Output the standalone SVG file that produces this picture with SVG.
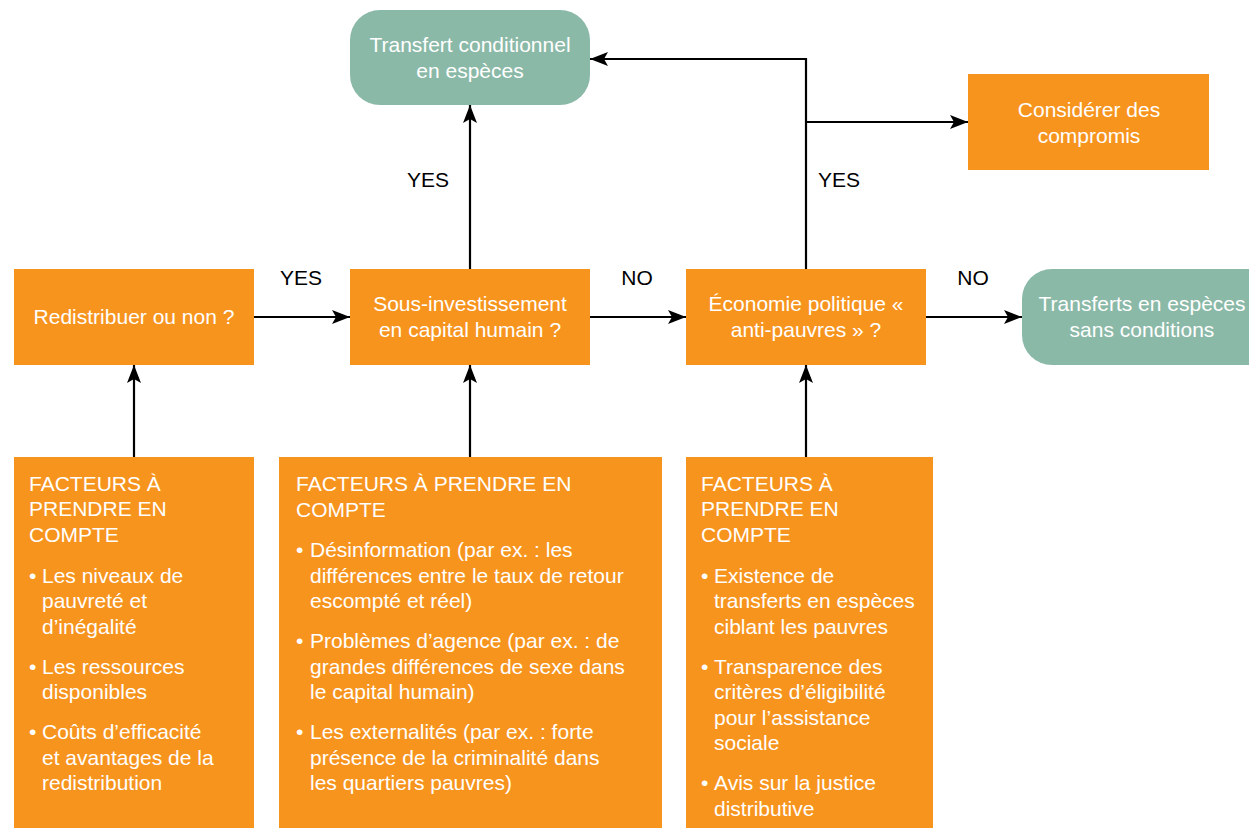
<svg xmlns="http://www.w3.org/2000/svg" width="1249" height="828" viewBox="0 0 1249 828">
<defs>
<style>
.o{fill:#F7941E}
.g{fill:#8BB9A8}
.t{font-family:"Liberation Sans",Arial,sans-serif;font-size:21px;fill:#fff}
.c{text-anchor:middle}
.l{font-family:"Liberation Sans",Arial,sans-serif;font-size:21px;fill:#000;text-anchor:middle}
.e{stroke:#000;stroke-width:2.2;fill:none;marker-end:url(#a)}
</style>
<marker id="a" markerUnits="userSpaceOnUse" markerWidth="19" markerHeight="14" refX="18" refY="7" orient="auto" viewBox="0 0 19 14">
<path d="M0,0 L18,7 L0,14 L4,7 Z" fill="#000"/>
</marker>
</defs>
<rect width="1249" height="828" fill="#fff"/>
<g id="connectors">
<path class="e" d="M254,317 H350"/>
<path class="e" d="M590,317 H686"/>
<path class="e" d="M926,317 H1022"/>
<path class="e" d="M134,457 V365"/>
<path class="e" d="M470,457 V365"/>
<path class="e" d="M806,457 V365"/>
<path class="e" d="M470,269 V105"/>
<path class="e" d="M806,269 V59 H590"/>
<path class="e" d="M806,122 H968"/>
<text class="l" x="301" y="285">YES</text>
<text class="l" x="637" y="285">NO</text>
<text class="l" x="973" y="285">NO</text>
<text class="l" x="428" y="187">YES</text>
<text class="l" x="839" y="187">YES</text>
</g>
<g id="n-cond">
<rect class="g" x="350" y="10" width="240" height="95" rx="30"/>
<text class="t c" x="470" y="52">Transfert conditionnel</text>
<text class="t c" x="470" y="78">en espèces</text>
</g>
<g id="n-compromis">
<rect class="o" x="968" y="74" width="241" height="96"/>
<text class="t c" x="1089" y="117">Considérer des</text>
<text class="t c" x="1089" y="143">compromis</text>
</g>
<g id="n-redis">
<rect class="o" x="14" y="269" width="240" height="96"/>
<text class="t c" x="134" y="324">Redistribuer ou non ?</text>
</g>
<g id="n-sous">
<rect class="o" x="350" y="269" width="240" height="96"/>
<text class="t c" x="470" y="311">Sous-investissement</text>
<text class="t c" x="470" y="337">en capital humain ?</text>
</g>
<g id="n-eco">
<rect class="o" x="686" y="269" width="240" height="96"/>
<text class="t c" x="806" y="311">Économie politique «</text>
<text class="t c" x="806" y="337">anti-pauvres » ?</text>
</g>
<g id="n-sans">
<rect class="g" x="1022" y="269" width="260" height="96" rx="30"/>
<text class="t c" x="1142" y="311">Transferts en espèces</text>
<text class="t c" x="1142" y="337">sans conditions</text>
</g>
<g id="f-left">
<rect class="o" x="14" y="457" width="240" height="371"/>
<text class="t" x="29" y="491">FACTEURS À</text>
<text class="t" x="29" y="516">PRENDRE EN</text>
<text class="t" x="29" y="542">COMPTE</text>
<text class="t" x="29" y="583">•</text>
<text class="t" x="42" y="583">Les niveaux de</text>
<text class="t" x="42" y="608">pauvreté et</text>
<text class="t" x="42" y="634">d’inégalité</text>
<text class="t" x="29" y="674">•</text>
<text class="t" x="42" y="674">Les ressources</text>
<text class="t" x="42" y="699">disponibles</text>
<text class="t" x="29" y="739">•</text>
<text class="t" x="42" y="739">Coûts d’efficacité</text>
<text class="t" x="42" y="765">et avantages de la</text>
<text class="t" x="42" y="790">redistribution</text>
</g>
<g id="f-mid">
<rect class="o" x="279" y="457" width="383" height="371"/>
<text class="t" x="296" y="491">FACTEURS À PRENDRE EN</text>
<text class="t" x="296" y="517">COMPTE</text>
<text class="t" x="296" y="557">•</text>
<text class="t" x="310" y="557">Désinformation (par ex. : les</text>
<text class="t" x="310" y="583">différences entre le taux de retour</text>
<text class="t" x="310" y="608">escompté et réel)</text>
<text class="t" x="296" y="648">•</text>
<text class="t" x="310" y="648">Problèmes d’agence (par ex. : de</text>
<text class="t" x="310" y="674">grandes différences de sexe dans</text>
<text class="t" x="310" y="699">le capital humain)</text>
<text class="t" x="296" y="739">•</text>
<text class="t" x="310" y="739">Les externalités (par ex. : forte</text>
<text class="t" x="310" y="765">présence de la criminalité dans</text>
<text class="t" x="310" y="790">les quartiers pauvres)</text>
</g>
<g id="f-right">
<rect class="o" x="686" y="457" width="247" height="371"/>
<text class="t" x="701" y="491">FACTEURS À</text>
<text class="t" x="701" y="516">PRENDRE EN</text>
<text class="t" x="701" y="542">COMPTE</text>
<text class="t" x="701" y="583">•</text>
<text class="t" x="714" y="583">Existence de</text>
<text class="t" x="714" y="608">transferts en espèces</text>
<text class="t" x="714" y="634">ciblant les pauvres</text>
<text class="t" x="701" y="674">•</text>
<text class="t" x="714" y="674">Transparence des</text>
<text class="t" x="714" y="699">critères d’éligibilité</text>
<text class="t" x="714" y="725">pour l’assistance</text>
<text class="t" x="714" y="750">sociale</text>
<text class="t" x="701" y="790">•</text>
<text class="t" x="714" y="790">Avis sur la justice</text>
<text class="t" x="714" y="816">distributive</text>
</g>
</svg>
